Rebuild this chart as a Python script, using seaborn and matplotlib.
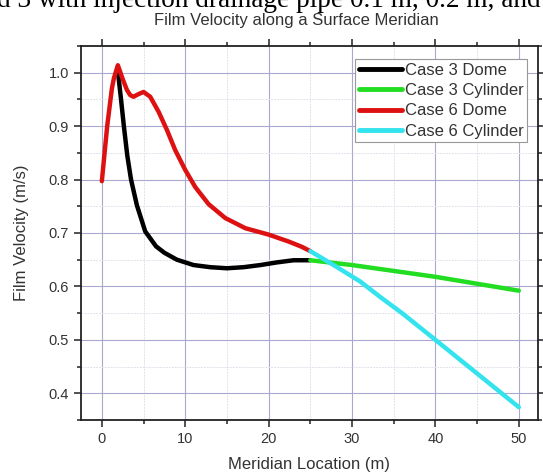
import numpy as np
import pandas as pd
import matplotlib
matplotlib.use("Agg")
import matplotlib.pyplot as plt
from matplotlib.ticker import MultipleLocator, FormatStrFormatter
import seaborn as sns

# ---- data ----
c3_dome_x = [1.92, 2.3, 2.64, 3.05, 3.5, 4.2, 5.2, 6.5, 7.5, 9.0, 11.0, 13.0, 15.0, 17.0, 19.0, 21.0, 23.0, 25.0]
c3_dome_y = [1.003, 0.95, 0.900, 0.845, 0.800, 0.752, 0.703, 0.675, 0.663, 0.650, 0.640, 0.636, 0.634, 0.636, 0.640, 0.645, 0.649, 0.649]
c3_cyl_x = [25.0, 30.0, 35.0, 40.0, 45.0, 50.0]
c3_cyl_y = [0.649, 0.640, 0.629, 0.618, 0.605, 0.592]
c6_dome_x = [0.0, 0.64, 1.2, 1.45, 1.92, 2.5, 3.0, 3.4, 3.8, 4.4, 5.0, 5.8, 6.8, 7.8, 8.8, 10.0, 11.2, 12.8, 14.8, 17.2, 20.0, 22.4, 24.0, 25.0]
c6_dome_y = [0.797, 0.900, 0.970, 0.990, 1.014, 0.988, 0.968, 0.958, 0.955, 0.960, 0.964, 0.955, 0.927, 0.893, 0.855, 0.818, 0.786, 0.754, 0.728, 0.709, 0.697, 0.684, 0.674, 0.666]
c6_cyl_x = [25.0, 28.0, 31.0, 33.4, 36.0, 40.0, 45.0, 50.0]
c6_cyl_y = [0.666, 0.638, 0.609, 0.580, 0.550, 0.500, 0.437, 0.374]

series_names = ["Case 3 Dome", "Case 3 Cylinder", "Case 6 Dome", "Case 6 Cylinder"]
series_colors = ["#000000", "#22dd22", "#dd1111", "#33e3ee"]

title_text = "Film Velocity along a Surface Meridian"
xlabel_text = "Meridian Location (m)"
ylabel_text = "Film Velocity (m/s)"
caption_text = "d 3 with injection drainage pipe 0.1 m, 0.2 m, and"

frames = []
for name, xs, ys in zip(series_names,
                        [c3_dome_x, c3_cyl_x, c6_dome_x, c6_cyl_x],
                        [c3_dome_y, c3_cyl_y, c6_dome_y, c6_cyl_y]):
    frames.append(pd.DataFrame({"x": xs, "y": ys, "series": name}))
df = pd.concat(frames, ignore_index=True)

sns.set_style("white")
plt.rcParams["font.family"] = ["Liberation Sans", "DejaVu Sans"]
plt.rcParams["text.color"] = "#333333"
plt.rcParams["lines.solid_joinstyle"] = "round"

fig = plt.figure(figsize=(5.43, 4.74), dpi=100)
ax = fig.add_axes([81 / 543, 1 - 420 / 474, (538 - 81) / 543, (420 - 46) / 474])

sns.lineplot(data=df, x="x", y="y", hue="series", hue_order=series_names,
             palette=dict(zip(series_names, series_colors)), sort=False,
             estimator=None, linewidth=3.2, ax=ax, legend=True)

ax.set_xlim(-2.5, 52.3)
ax.set_ylim(0.35, 1.05)
ax.xaxis.set_major_locator(MultipleLocator(10))
ax.xaxis.set_minor_locator(MultipleLocator(5))
ax.yaxis.set_major_locator(MultipleLocator(0.1))
ax.yaxis.set_minor_locator(MultipleLocator(0.05))
ax.yaxis.set_major_formatter(FormatStrFormatter("%.1f"))

ax.grid(which="major", color="#a8a8d0", linewidth=0.8)
ax.grid(which="minor", color="#e2e2ec", linewidth=0.7, linestyle=(0, (2, 1)))
ax.set_axisbelow(True)

for s in ax.spines.values():
    s.set_visible(True)
    s.set_color("#222222")
    s.set_linewidth(1.3)

ax.tick_params(which="both", direction="out", top=True, right=True,
               bottom=True, left=True, color="#222222", labelcolor="#333333",
               labelsize=10.5, width=1.1)
ax.tick_params(which="major", length=5)
ax.tick_params(which="minor", length=3)

ax.set_xlabel(xlabel_text, fontsize=12, color="#333333", labelpad=8)
ax.set_ylabel(ylabel_text, fontsize=12, color="#333333", labelpad=14)

fig.text(296 / 543, 1 - 24.5 / 474, title_text, ha="center", va="baseline",
         fontsize=12, color="#333333")
fig.text(-0.005, 1 - 7 / 474, caption_text, ha="left", va="baseline",
         fontsize=19.6, color="#000000", family=["Liberation Serif", "DejaVu Serif"])

leg = ax.legend(loc="upper right", bbox_to_anchor=(0.976, 0.965),
                borderaxespad=0, fontsize=12, handlelength=2.6,
                handletextpad=0.15, labelspacing=0.32, borderpad=0.22,
                fancybox=False, framealpha=1.0, edgecolor="#999999")
for line in leg.get_lines():
    line.set_linewidth(3.5)
leg.get_frame().set_linewidth(0.8)

fig.savefig("out.png", dpi=100)
